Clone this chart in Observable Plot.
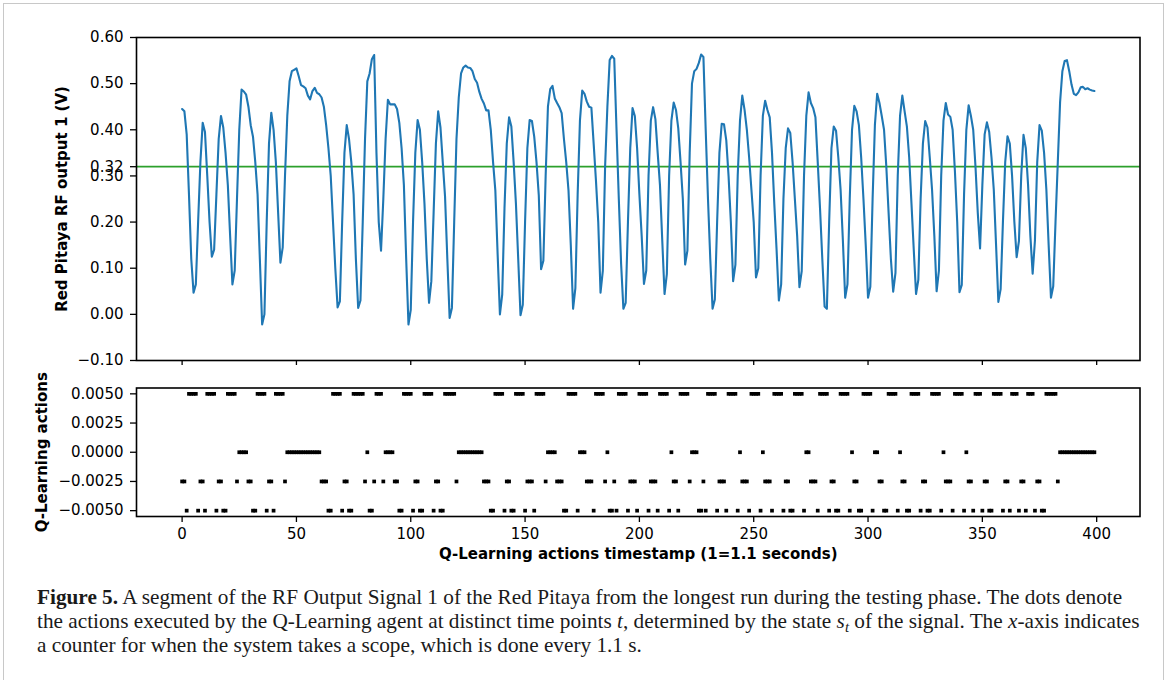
<!DOCTYPE html>
<html><head><meta charset="utf-8">
<script src="https://cdn.jsdelivr.net/npm/d3@7"></script>
<script src="https://cdn.jsdelivr.net/npm/@observablehq/plot@0.6"></script>
<style>
html,body{margin:0;padding:0;background:#fff;}
#page{position:relative;width:1167px;height:680px;overflow:hidden;background:#fff;}
#border{position:absolute;left:3px;top:3px;width:1159px;height:720px;border:1px solid #c8c8c8;z-index:5;pointer-events:none;}
#charts{position:absolute;left:0;top:0;z-index:1;}
#charts svg{display:block;}
#caption{position:absolute;left:37px;top:585px;font-family:"Liberation Serif","Times New Roman",serif;font-size:19px;line-height:24px;color:#1a1a1a;white-space:nowrap;z-index:2;}
#caption .ln{display:inline-block;}
</style></head>
<body>
<div id="page">
  <div id="border"></div>
  <div id="charts"></div>
  <div id="caption">
    <span class="ln" id="ln1"><b>Figure 5.</b> A segment of the RF Output Signal 1 of the Red Pitaya from the longest run during the testing phase. The dots denote</span><br>
    <span class="ln">the actions executed by the Q-Learning agent at distinct time points <i>t</i>, determined by the state <i>s<sub style="font-size:70%;vertical-align:-0.25em;line-height:0">t</sub></i> of the signal. The <i>x</i>-axis indicates</span><br>
    <span class="ln">a counter for when the system takes a scope, which is done every 1.1 s.</span>
  </div>
</div>
<script>
// ---- data ----
const threshold = 0.32;
// RF output 1 (V), one value per timestamp 0..399
const signal = [
0.445,0.44,0.39,0.26,0.12,0.047,0.065,0.2,0.33,0.415,
0.395,0.3,0.2,0.125,0.14,0.26,0.38,0.43,0.405,0.35,
0.28,0.17,0.065,0.095,0.25,0.4,0.487,0.483,0.476,0.45,
0.41,0.385,0.33,0.26,0.12,-0.022,0.0,0.2,0.37,0.437,
0.4,0.33,0.22,0.112,0.145,0.3,0.43,0.505,0.527,0.53,
0.533,0.516,0.497,0.494,0.49,0.474,0.466,0.484,0.491,0.48,
0.477,0.47,0.45,0.41,0.36,0.3,0.2,0.1,0.015,0.028,
0.2,0.35,0.41,0.38,0.33,0.26,0.12,0.014,0.03,0.2,
0.38,0.505,0.522,0.553,0.562,0.35,0.2,0.138,0.25,0.38,
0.465,0.455,0.455,0.455,0.445,0.415,0.36,0.28,0.12,-0.022,
0.01,0.2,0.35,0.421,0.4,0.33,0.24,0.12,0.025,0.072,
0.22,0.37,0.44,0.405,0.33,0.255,0.12,-0.008,0.014,0.2,
0.38,0.47,0.522,0.535,0.539,0.535,0.534,0.527,0.51,0.502,
0.482,0.467,0.457,0.442,0.442,0.4,0.33,0.268,0.13,0.0,
0.043,0.23,0.37,0.427,0.407,0.33,0.24,0.12,-0.002,0.021,
0.2,0.36,0.421,0.419,0.385,0.33,0.258,0.098,0.116,0.3,
0.45,0.488,0.495,0.468,0.458,0.449,0.436,0.38,0.33,0.268,
0.15,0.012,0.057,0.26,0.42,0.485,0.478,0.461,0.45,0.448,
0.37,0.29,0.2,0.047,0.094,0.32,0.45,0.551,0.56,0.554,
0.4,0.25,0.11,0.012,0.025,0.2,0.36,0.447,0.43,0.36,
0.26,0.17,0.066,0.095,0.3,0.42,0.449,0.423,0.35,0.28,
0.16,0.044,0.087,0.3,0.42,0.459,0.443,0.403,0.33,0.25,
0.108,0.138,0.35,0.5,0.527,0.532,0.545,0.563,0.558,0.4,
0.25,0.12,0.012,0.032,0.2,0.35,0.413,0.412,0.377,0.3,
0.2,0.072,0.108,0.3,0.42,0.474,0.443,0.4,0.34,0.27,
0.2,0.08,0.1,0.3,0.43,0.463,0.443,0.427,0.35,0.24,
0.14,0.03,0.065,0.25,0.36,0.403,0.393,0.33,0.25,0.17,
0.059,0.094,0.3,0.43,0.481,0.458,0.447,0.427,0.33,0.23,
0.12,0.017,0.012,0.2,0.36,0.407,0.398,0.34,0.27,0.16,
0.036,0.065,0.25,0.4,0.452,0.44,0.41,0.34,0.25,0.15,
0.036,0.06,0.25,0.41,0.478,0.458,0.43,0.4,0.32,0.22,
0.12,0.049,0.09,0.3,0.43,0.474,0.44,0.407,0.34,0.24,
0.14,0.044,0.075,0.25,0.37,0.419,0.405,0.34,0.27,0.17,
0.05,0.095,0.3,0.42,0.458,0.433,0.428,0.4,0.31,0.2,
0.048,0.064,0.26,0.4,0.453,0.43,0.4,0.32,0.22,0.143,
0.28,0.39,0.416,0.395,0.34,0.27,0.15,0.027,0.055,0.2,
0.33,0.386,0.37,0.3,0.2,0.124,0.159,0.3,0.389,0.36,
0.28,0.17,0.088,0.16,0.33,0.41,0.398,0.35,0.27,0.15,
0.036,0.061,0.2,0.33,0.46,0.527,0.549,0.551,0.527,0.498,
0.478,0.475,0.481,0.492,0.493,0.488,0.49,0.487,0.485,0.484
];
// timestamps at which each Q-Learning action was taken
const actUp = [3,4,5,6,11,12,13,14,20,21,22,23,33,34,35,36,41,42,43,44,66,67,68,69,75,76,77,78,79,85,86,87,97,98,99,100,106,107,108,109,115,116,117,118,119,137,138,139,140,146,147,148,149,155,156,157,158,169,170,171,172,181,182,183,184,191,192,193,194,200,201,202,203,209,210,211,212,218,219,220,221,230,231,232,233,239,240,241,242,249,250,251,252,259,260,261,262,268,269,270,271,279,280,281,282,288,289,290,291,298,299,300,301,309,310,311,312,319,320,321,322,328,329,330,331,338,339,340,341,347,348,349,355,356,357,358,363,364,365,370,371,372,378,379,380,381,382];
const actHold = [25,26,27,28,46,47,48,49,50,51,52,53,54,55,56,57,58,59,60,81,89,90,91,92,121,122,123,124,125,126,127,128,129,130,131,160,161,162,163,174,175,176,186,214,223,224,225,244,254,273,274,293,303,304,314,333,343,384,385,386,387,388,389,390,391,392,393,394,395,396,397,398,399];
const actDownSmall = [0,1,8,9,16,17,24,29,30,38,39,45,61,62,63,71,72,80,84,88,93,94,102,103,111,112,120,132,133,134,142,143,151,152,153,159,164,165,166,177,178,179,185,189,196,197,198,205,206,207,215,216,222,228,235,236,237,245,246,247,255,256,257,264,265,275,276,277,284,285,294,295,305,306,315,316,324,325,334,335,336,344,345,351,352,360,361,367,368,374,375,383];
const actDownLarge = [2,7,10,15,18,19,31,32,37,40,64,65,70,73,74,82,83,95,96,101,104,105,110,113,114,135,136,141,144,145,150,154,167,168,173,180,187,188,190,195,199,204,208,213,217,226,227,229,234,238,243,248,253,258,263,266,267,272,278,283,286,287,292,296,297,302,307,308,313,317,318,323,326,327,332,337,342,346,350,353,354,359,362,366,369,373,376,377];
const actionLevels = [0.005, 0, -0.0025, -0.005];
const xTicks = [0,50,100,150,200,250,300,350,400];
const yTicksTop = [-0.1,0,0.1,0.2,0.3,0.32,0.4,0.5,0.6];
const yTicksBottom = [-0.005,-0.0025,0,0.0025,0.005];
const ylabelTop = "Red Pitaya RF output 1 (V)";
const ylabelBottom = "Q-Learning actions";
const xlabel = "Q-Learning actions timestamp (1=1.1 seconds)";

// ---- build tables ----
const lineData = signal.map((v, i) => ({t: i, v}));
const actionData = [];
[actUp, actHold, actDownSmall, actDownLarge].forEach((arr, k) => arr.forEach(t => actionData.push({t, a: actionLevels[k]})));

const W = 1167, ML = 136, MR = 27.5;
const xDomain = [-19.95, 418.95];
const style = {fontFamily: "DejaVu Sans", fontSize: "15px", color: "black", background: "transparent", overflow: "visible"};

const topChart = Plot.plot({
  width: W, height: 374, marginLeft: ML, marginRight: MR, marginTop: 37, marginBottom: 14,
  x: {domain: xDomain}, y: {domain: [-0.1, 0.6]},
  style,
  marks: [
    Plot.ruleY([threshold], {stroke: "#2ca02c", strokeWidth: 1.8}),
    Plot.line(lineData, {x: "t", y: "v", stroke: "#1f77b4", strokeWidth: 2.1}),
    Plot.axisY({ticks: yTicksTop, tickFormat: d3.format(".2f"), tickSize: 6, tickPadding: 7, label: null, strokeWidth: 1.3, fontSize: 15}),
    Plot.axisX({ticks: xTicks, tickFormat: () => "", tickSize: 5, tickPadding: 0, label: null, strokeWidth: 1.3}),
    Plot.frame({stroke: "black", strokeWidth: 1.6}),
    Plot.text([ylabelTop], {text: d => d, frameAnchor: "left", textAnchor: "middle", lineAnchor: "middle", dx: -74, rotate: -90, fontWeight: "bold", fontSize: 15})
  ]
});

const bottomChart = Plot.plot({
  width: W, height: 201, marginLeft: ML, marginRight: MR, marginTop: 13.5, marginBottom: 59,
  x: {domain: xDomain}, y: {domain: [-0.0055, 0.0055]},
  style,
  marks: [
    Plot.dot(actionData, {x: "t", y: "a", symbol: "square", r: 2.1, fill: "black", stroke: "none"}),
    Plot.axisY({ticks: yTicksBottom, tickFormat: d3.format(".4f"), tickSize: 6, tickPadding: 7, label: null, strokeWidth: 1.3, fontSize: 15}),
    Plot.axisX({ticks: xTicks, tickFormat: d3.format("d"), tickSize: 6, tickPadding: 6, label: null, strokeWidth: 1.3, fontSize: 15}),
    Plot.frame({stroke: "black", strokeWidth: 1.6}),
    Plot.text([ylabelBottom], {text: d => d, frameAnchor: "left", textAnchor: "middle", lineAnchor: "middle", dx: -94, rotate: -90, fontWeight: "bold", fontSize: 15}),
    Plot.text([xlabel], {text: d => d, frameAnchor: "bottom", textAnchor: "middle", dy: 42, fontWeight: "bold", fontSize: 15})
  ]
});

const holder = document.getElementById("charts");
holder.appendChild(topChart);
holder.appendChild(bottomChart);

// fit caption width to the reference line length
const ln1 = document.getElementById("ln1");
const cap = document.getElementById("caption");
const w = ln1.getBoundingClientRect().width;
if (w > 0) cap.style.fontSize = (19 * 1085 / w).toFixed(2) + "px";
</script>
</body></html>
